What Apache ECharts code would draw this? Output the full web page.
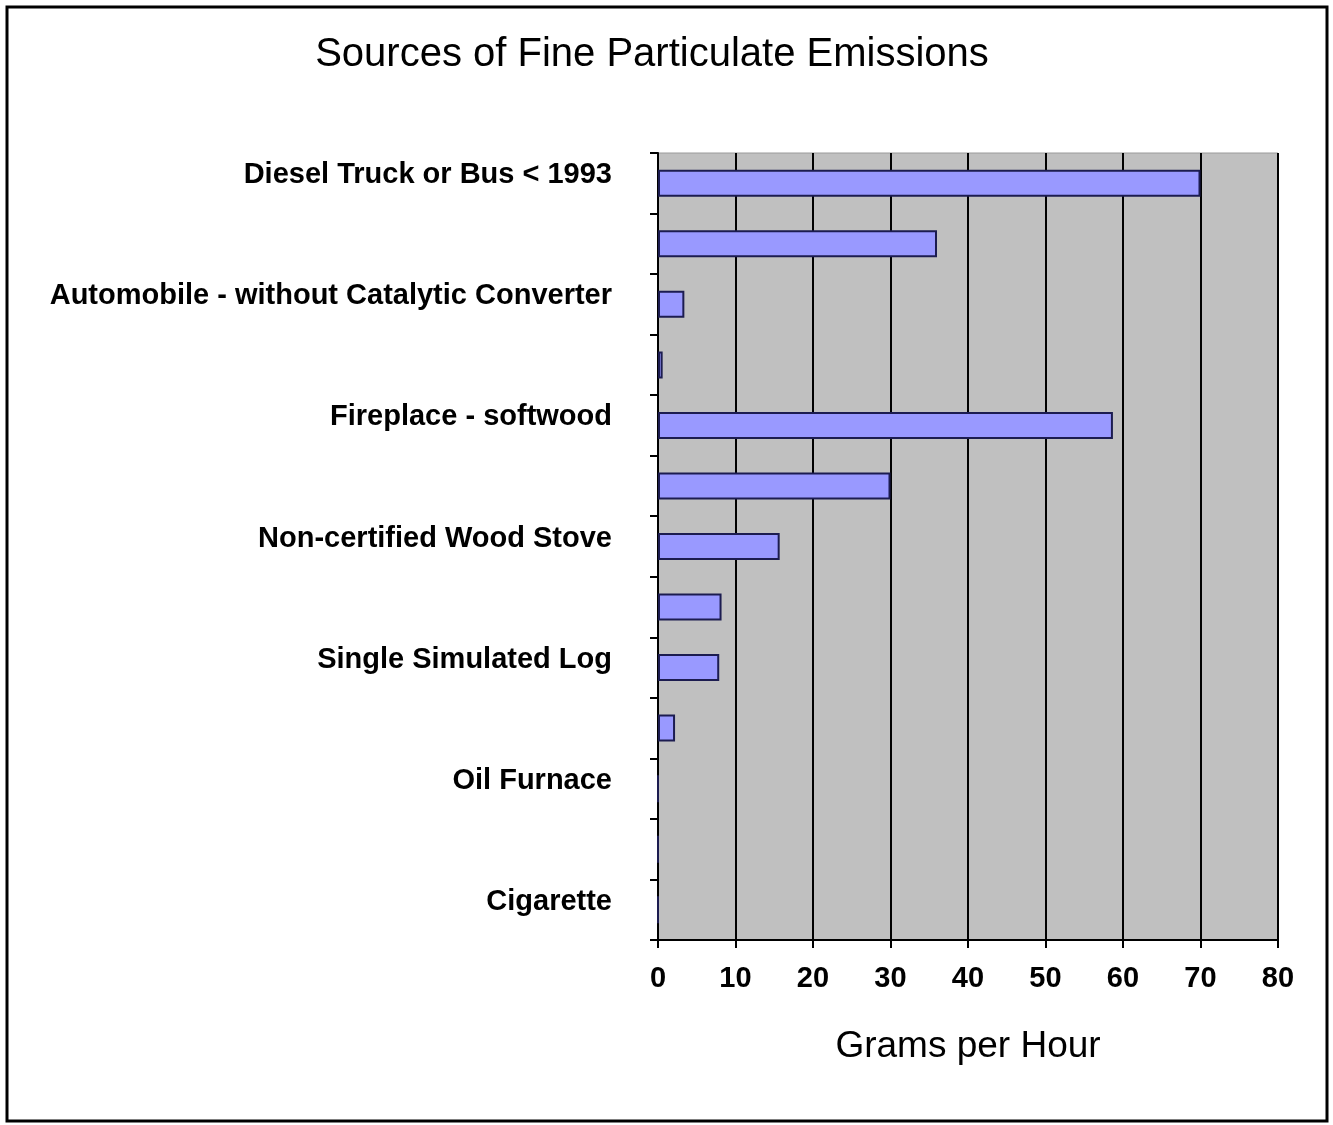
<!DOCTYPE html>
<html>
<head>
<meta charset="utf-8">
<script src="https://cdn.jsdelivr.net/npm/echarts@6/dist/echarts.min.js"></script>
<style>
html,body{margin:0;padding:0;background:#fff;}
#chart{width:1333px;height:1125px;}
</style>
</head>
<body>
<div id="chart"></div>
<script>
const categories = [
  'Diesel Truck or Bus < 1993',
  'Diesel Truck or Bus 1994+',
  'Automobile - without Catalytic Converter',
  'Automobile - with Catalytic Converter',
  'Fireplace - softwood',
  'Fireplace - hardwood',
  'Non-certified Wood Stove',
  'Certified Wood Stove',
  'Single Simulated Log',
  'Pellet Stove',
  'Oil Furnace',
  'Gas Furnace',
  'Cigarette'
];
const values = [70, 36, 3.4, 0.6, 58.7, 30, 15.7, 8.2, 7.9, 2.2, 0, 0, 0];
const xTicks = { min: 0, max: 80, interval: 10 };
const titleText = 'Sources of Fine Particulate Emissions';
const xName = 'Grams per Hour';

const chart = echarts.init(document.getElementById('chart'), null, { renderer: 'canvas' });
chart.setOption({
  backgroundColor: '#ffffff',
  animation: false,
  title: {
    text: titleText,
    left: 647,
    top: 30,
    textAlign: 'center',
    textStyle: { fontFamily: 'Liberation Sans, Arial, sans-serif', fontWeight: 'normal', fontSize: 40, color: '#000' }
  },
  graphic: [{
    type: 'rect',
    shape: { x: 7, y: 7, width: 1320, height: 1114 },
    style: { fill: 'none', stroke: '#000', lineWidth: 3 },
    silent: true
  }],
  grid: {
    left: 658, right: 55, top: 153, bottom: 185,
    show: true, backgroundColor: '#C0C0C0', borderColor: '#9a9a9a', borderWidth: 1
  },
  xAxis: {
    type: 'value',
    min: xTicks.min, max: xTicks.max, interval: xTicks.interval,
    name: xName,
    nameLocation: 'middle',
    nameGap: 88,
    nameTextStyle: { fontFamily: 'Liberation Sans, Arial, sans-serif', fontSize: 37, color: '#000' },
    axisLine: { show: true, lineStyle: { color: '#000', width: 2 } },
    axisTick: { show: true, length: 8, lineStyle: { color: '#000', width: 2 } },
    axisLabel: { margin: 24, fontFamily: 'Liberation Sans, Arial, sans-serif', fontWeight: 'bold', fontSize: 29, color: '#000' },
    splitLine: { show: true, lineStyle: { color: '#000', width: 2 } }
  },
  yAxis: {
    type: 'category',
    data: categories,
    inverse: true,
    axisLine: { show: true, lineStyle: { color: '#000', width: 2 } },
    axisTick: { show: true, length: 8, interval: 0, alignWithLabel: false, lineStyle: { color: '#000', width: 2 } },
    axisLabel: {
      interval: 1, margin: 46,
      fontFamily: 'Liberation Sans, Arial, sans-serif', fontWeight: 'bold', fontSize: 29, color: '#000',
      verticalAlign: 'bottom', lineHeight: 16
    },
    splitLine: { show: false }
  },
  series: [{
    type: 'bar',
    data: values,
    barWidth: 27,
    itemStyle: { color: '#9999FF', borderColor: '#1c1c50', borderWidth: 2 }
  }]
});
</script>
</body>
</html>
